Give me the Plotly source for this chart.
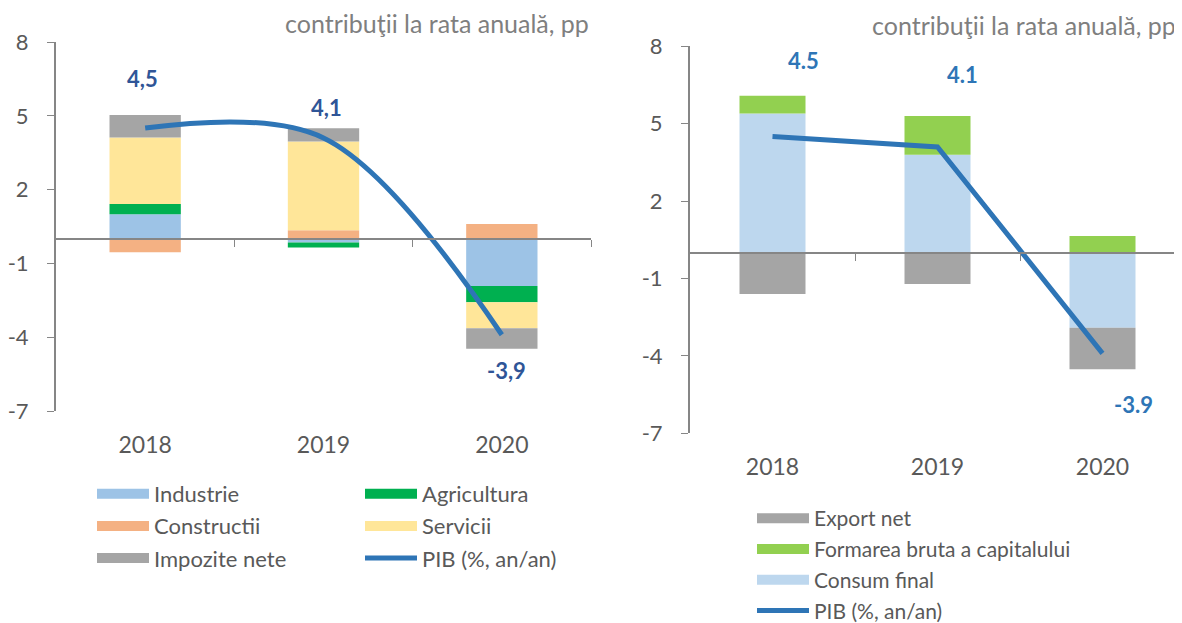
import plotly.graph_objects as go

YEARS = ["2018", "2019", "2020"]

# left panel: contributions to annual GDP growth by sector, pp
INDUSTRIE = [1.00, -0.15, -1.92]
AGRICULTURA = [0.41, -0.20, -0.66]
CONSTRUCTII = [-0.55, 0.35, 0.60]
SERVICII = [2.71, 3.61, -1.06]
IMPOZITE = [0.91, 0.53, -0.83]

# right panel: contributions by expenditure component, pp
CONSUM_FINAL = [5.40, 3.80, -2.91]
FORMAREA = [0.68, 1.50, 0.65]
EXPORT_NET = [-1.60, -1.21, -1.61]

PIB = [4.5, 4.1, -3.9]
PIB_TEXT_LEFT = ["4,5", "4,1", "-3,9"]
PIB_TEXT_RIGHT = ["4.5", "4.1", "-3.9"]

Y_TICKS = [-7, -4, -1, 2, 5, 8]
Y_RANGE = [-7, 8]

W, H = 1182, 623
OFF = 8  # page body margin
FONT = "Lato"
DARK = "#595959"
AXIS = "#868686"
LINE = "#2E75B6"

C_IND, C_AGR, C_CON, C_SER, C_IMP = "#9DC3E6", "#00B050", "#F4B183", "#FFE699", "#A5A5A5"
C_EXP, C_FBC, C_CF = "#A5A5A5", "#92D050", "#BDD7EE"


def fx(p):
    return (p - OFF) / W


def fy(p):
    return 1 - (p - OFF) / H


left_dom_x = [fx(56), fx(591)]
left_dom_y = [fy(411), fy(42)]
right_dom_x = [fx(690), fx(1185)]
right_dom_y = [fy(433.3), fy(46.3)]


def zero_pos(dom):
    frac = (0 - Y_RANGE[0]) / (Y_RANGE[1] - Y_RANGE[0])
    return dom[0] + frac * (dom[1] - dom[0])


fig = go.Figure()

left_bars = [
    ("Industrie", INDUSTRIE, C_IND),
    ("Agricultura", AGRICULTURA, C_AGR),
    ("Constructii", CONSTRUCTII, C_CON),
    ("Servicii", SERVICII, C_SER),
    ("Impozite nete", IMPOZITE, C_IMP),
]
for name, vals, col in left_bars:
    fig.add_trace(go.Bar(x=YEARS, y=vals, name=name, marker=dict(color=col, line=dict(width=0)),
                         width=0.4, showlegend=False, xaxis="x", yaxis="y"))

right_bars = [
    ("Consum final", CONSUM_FINAL, C_CF),
    ("Formarea bruta a capitalului", FORMAREA, C_FBC),
    ("Export net", EXPORT_NET, C_EXP),
]
for name, vals, col in right_bars:
    fig.add_trace(go.Bar(x=YEARS, y=vals, name=name, marker=dict(color=col, line=dict(width=0)),
                         width=0.4, showlegend=False, xaxis="x2", yaxis="y2"))

# legend-only entries (wide swatches like the original)
legend_entries = [
    ("Industrie", C_IND, "legend"),
    ("Constructii", C_CON, "legend"),
    ("Impozite nete", C_IMP, "legend"),
    ("Agricultura", C_AGR, "legend2"),
    ("Servicii", C_SER, "legend2"),
    ("Export net", C_EXP, "legend3"),
    ("Formarea bruta a capitalului", C_FBC, "legend3"),
    ("Consum final", C_CF, "legend3"),
]
for name, col, leg in legend_entries:
    fig.add_trace(go.Scatter(x=[None], y=[None], mode="lines", name=name, legendgroup=name,
                             line=dict(color=col, width=14), legend=leg, hoverinfo="skip",
                             xaxis="x2" if leg == "legend3" else "x",
                             yaxis="y2" if leg == "legend3" else "y"))

fig.add_trace(go.Scatter(x=YEARS, y=PIB, mode="lines", name="PIB (%, an/an)", legendgroup="pib1",
                         line=dict(color=LINE, width=5, shape="spline", smoothing=1.0),
                         legend="legend2", xaxis="x", yaxis="y"))
fig.add_trace(go.Scatter(x=YEARS, y=PIB, mode="lines", name="PIB (%, an/an)", legendgroup="pib2",
                         line=dict(color=LINE, width=5), legend="legend3", xaxis="x2", yaxis="y2"))

# invisible traces so the zero-line axes are drawn
for xa, ya in (("x3", "y"), ("x4", "y2")):
    fig.add_trace(go.Scatter(x=[None], y=[None], xaxis=xa, yaxis=ya, showlegend=False, hoverinfo="skip"))

# PIB value labels (x given as category index)
left_shift = [(-3, 50), (3, 30), (5, -36)]
right_shift = [(31, 76), (25, 72), (31, -51)]
annotations = []
for i, (v, t, (dx, dy)) in enumerate(zip(PIB, PIB_TEXT_LEFT, left_shift)):
    annotations.append(dict(x=i, y=v, xref="x", yref="y", text=t, showarrow=False,
                            xshift=dx, yshift=dy, font=dict(family=FONT, size=22, color="#2F5597", weight="bold")))
for i, (v, t, (dx, dy)) in enumerate(zip(PIB, PIB_TEXT_RIGHT, right_shift)):
    annotations.append(dict(x=i, y=v, xref="x2", yref="y2", text=t, showarrow=False,
                            xshift=dx, yshift=dy, font=dict(family=FONT, size=22, color=LINE, weight="bold")))

title_font = dict(family=FONT, size=25, color="#7F7F7F")
annotations.append(dict(x=fx(591), y=fy(23), xref="paper", yref="paper", xanchor="right", yanchor="middle",
                        text="contribuţii la rata anuală, pp", showarrow=False, font=title_font))
annotations.append(dict(x=fx(1178), y=fy(25), xref="paper", yref="paper", xanchor="right", yanchor="middle",
                        text="contribuţii la rata anuală, pp", showarrow=False, font=title_font))

yaxis_common = dict(range=Y_RANGE, tickvals=Y_TICKS, ticktext=[str(v) for v in Y_TICKS],
                    showgrid=False, zeroline=False, showline=True,
                    linecolor=AXIS, linewidth=2, ticks="outside", ticklen=7, tickcolor=AXIS,
                    tickfont=dict(family=FONT, size=22, color=DARK), ticklabelstandoff=14, fixedrange=True)
xaxis_common = dict(type="category", categoryarray=YEARS, range=[-0.5, 2.5], showgrid=False,
                    zeroline=False, showline=False, ticks="", ticklabelstandoff=18,
                    tickfont=dict(family=FONT, size=23, color=DARK), fixedrange=True)
zero_axis = dict(range=[-0.5, 2.5], tickvals=[0.5, 1.5, 2.5], showticklabels=False, showgrid=False,
                 zeroline=False, showline=True, linecolor=AXIS, linewidth=2, ticks="outside", ticklen=7,
                 tickcolor=AXIS, anchor="free", layer="above traces", fixedrange=True)

legend_common = dict(orientation="v", xanchor="left", yanchor="top", bgcolor="rgba(0,0,0,0)",
                     font=dict(family=FONT, size=22, color=DARK), itemwidth=52, tracegroupgap=0.5,
                     itemclick=False, itemdoubleclick=False)
legend_right = {**legend_common, "font": dict(family=FONT, size=21, color=DARK)}

fig.update_layout(
    width=W, height=H,
    margin=dict(l=0, r=0, t=0, b=0, autoexpand=False),
    paper_bgcolor="white", plot_bgcolor="white",
    barmode="relative",
    showlegend=True,
    xaxis=dict(domain=left_dom_x, anchor="y", **xaxis_common),
    yaxis=dict(domain=left_dom_y, anchor="x", **yaxis_common),
    xaxis2=dict(domain=right_dom_x, anchor="y2", **xaxis_common),
    yaxis2=dict(domain=right_dom_y, anchor="x2", **yaxis_common),
    xaxis3=dict(overlaying="x", position=zero_pos(left_dom_y), **zero_axis),
    xaxis4=dict(overlaying="x2", position=zero_pos(right_dom_y), **zero_axis),
    legend=dict(x=fx(92), y=fy(473), **legend_common),
    legend2=dict(x=fx(360), y=fy(473), **legend_common),
    legend3=dict(x=fx(752), y=fy(498), **legend_right),
    annotations=annotations,
)

fig.write_html("out.html")
